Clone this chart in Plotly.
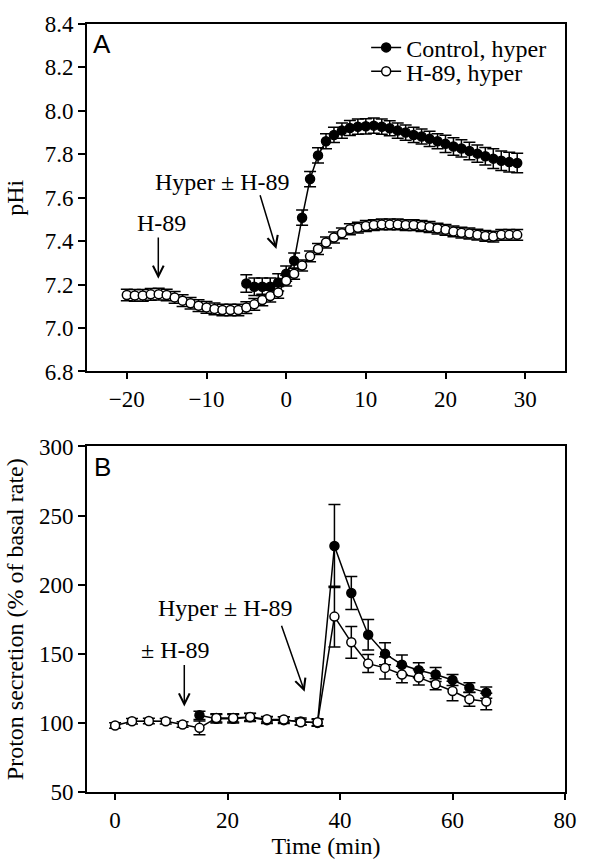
import plotly.graph_objects as go

# ---------------- Panel A data (pHi) ----------------
a_ctrl_t = list(range(-5, 30))
a_ctrl_ph = [7.205, 7.19, 7.19, 7.19, 7.21, 7.25, 7.31, 7.508, 7.686, 7.795,
             7.86, 7.889, 7.909, 7.921, 7.927, 7.929, 7.932, 7.927, 7.92, 7.909,
             7.90, 7.889, 7.882, 7.871, 7.86, 7.848, 7.836, 7.827, 7.815, 7.803,
             7.791, 7.78, 7.77, 7.764, 7.76]
a_ctrl_err = [0.04, 0.04, 0.04, 0.04, 0.04, 0.035, 0.035, 0.035, 0.035, 0.035,
              0.035, 0.035, 0.035, 0.035, 0.035, 0.035, 0.035, 0.035, 0.035, 0.035,
              0.035, 0.035, 0.035, 0.035, 0.035, 0.04, 0.04, 0.04, 0.04, 0.04,
              0.04, 0.045, 0.045, 0.045, 0.045]

a_h89_t = list(range(-20, 30))
a_h89_ph = [7.152, 7.15, 7.15, 7.155, 7.156, 7.152, 7.141, 7.126, 7.114, 7.103,
            7.095, 7.088, 7.083, 7.083, 7.083, 7.094, 7.109, 7.129, 7.147, 7.164,
            7.218, 7.25, 7.288, 7.33, 7.364, 7.394, 7.417, 7.436, 7.455, 7.462,
            7.47, 7.474, 7.477, 7.477, 7.477, 7.474, 7.474, 7.47, 7.465, 7.458,
            7.452, 7.445, 7.439, 7.435, 7.43, 7.424, 7.421, 7.429, 7.429, 7.429]
a_h89_err = [0.027] * 20 + [0.025] * 30

# ---------------- Panel B data (proton secretion) ----------------
b_ctrl_t = list(range(15, 67, 3))
b_ctrl_v = [105.5, 103, 103, 104, 102, 102, 101, 100, 228, 194,
            163.8, 150, 142.1, 138.1, 135, 131, 125.5, 121.9]
b_ctrl_err = [3, 3, 3, 3, 2.5, 2.5, 2.5, 2.5, 30, 12,
              11, 8, 7, 5.5, 5, 4, 3.5, 4]

b_h89_t = list(range(0, 67, 3))
b_h89_v = [98.1, 101.2, 101.4, 101.2, 98.8, 96.4, 103.6, 103.6, 104.3, 102.6,
           102.4, 100.5, 100.5, 176.9, 158.3, 142.9, 139.8, 135, 132.9, 127.9,
           123.1, 117.1, 115.5]
b_h89_err = [2, 2, 2, 2, 2, 5, 3, 3, 2.5, 2, 2, 2, 2.5, 22, 11.5, 6.5,
             8, 6, 5.5, 4, 7, 5, 6]

SERIF = "Liberation Serif"
SANS = "Liberation Sans"
FS = 23      # tick labels
FT = 24      # titles, legend, annotations

fig = go.Figure()


def err(arr):
    return dict(type="data", array=arr, visible=True, color="black",
                thickness=1.5, width=6)


fig.add_trace(go.Scatter(
    x=a_ctrl_t, y=a_ctrl_ph, error_y=err(a_ctrl_err), mode="lines+markers",
    name="Control, hyper", legend="legend",
    line=dict(color="black", width=1.5),
    marker=dict(symbol="circle", size=9, color="black",
                line=dict(color="black", width=1.5)),
    xaxis="x", yaxis="y"))
fig.add_trace(go.Scatter(
    x=a_h89_t, y=a_h89_ph, error_y=err(a_h89_err), mode="lines+markers",
    name="H-89, hyper", legend="legend2",
    line=dict(color="black", width=1.5),
    marker=dict(symbol="circle", size=9, color="white",
                line=dict(color="black", width=1.5)),
    xaxis="x", yaxis="y"))
fig.add_trace(go.Scatter(
    x=b_ctrl_t, y=b_ctrl_v, error_y=err(b_ctrl_err), mode="lines+markers",
    showlegend=False,
    line=dict(color="black", width=1.5),
    marker=dict(symbol="circle", size=9, color="black",
                line=dict(color="black", width=1.5)),
    xaxis="x2", yaxis="y2"))
fig.add_trace(go.Scatter(
    x=b_h89_t, y=b_h89_v, error_y=err(b_h89_err), mode="lines+markers",
    showlegend=False,
    line=dict(color="black", width=1.5),
    marker=dict(symbol="circle", size=9, color="white",
                line=dict(color="black", width=1.5)),
    xaxis="x2", yaxis="y2"))

axis_common = dict(showline=True, linecolor="black", linewidth=2, mirror=True,
                   ticks="outside", tickcolor="black", tickwidth=1.5,
                   showgrid=False, zeroline=False,
                   tickfont=dict(family=SERIF, size=FS, color="black"))

fig.update_layout(
    width=589, height=865,
    margin=dict(l=87, r=17, t=20, b=67),
    paper_bgcolor="white", plot_bgcolor="white",
    font=dict(family=SERIF, size=FS, color="black"),
    xaxis=dict(domain=[0, 1], range=[-25, 35], tickvals=[-20, -10, 0, 10, 20, 30],
               ticktext=["\u221220", "\u221210", "0", "10", "20", "30"],
               ticklen=6, anchor="y", **axis_common),
    yaxis=dict(domain=[0.5476, 1], range=[6.8, 8.4], dtick=0.2, tickformat=".1f",
               ticklen=7, anchor="x",
               title=dict(text="pHi", font=dict(family=SERIF, size=FT), standoff=14),
               **axis_common),
    xaxis2=dict(domain=[0, 1], range=[-5, 80], dtick=20, ticklen=6, anchor="y2",
                title=dict(text="Time (min)", font=dict(family=SERIF, size=FT), standoff=4),
                **axis_common),
    yaxis2=dict(domain=[0, 0.4499], range=[50, 300], dtick=50, ticklen=7, anchor="x2",
                title=dict(text="Proton secretion (% of basal rate)",
                           font=dict(family=SERIF, size=FT), standoff=8),
                **axis_common),
    legend=dict(x=0.584, y=0.969, xanchor="left", yanchor="middle",
                bgcolor="rgba(0,0,0,0)", font=dict(family=SERIF, size=FT),
                itemwidth=30),
    legend2=dict(x=0.584, y=0.938, xanchor="left", yanchor="middle",
                 bgcolor="rgba(0,0,0,0)", font=dict(family=SERIF, size=FT),
                 itemwidth=30),
    showlegend=True,
)

ann = []
# panel letters
ann.append(dict(text="A", xref="x domain", yref="y domain", x=0.008, y=0.99,
                xanchor="left", yanchor="top", showarrow=False,
                font=dict(family=SANS, size=26, color="black")))
ann.append(dict(text="B", xref="x2 domain", yref="y2 domain", x=0.01, y=0.99,
                xanchor="left", yanchor="top", showarrow=False,
                font=dict(family=SANS, size=26, color="black")))
# Panel A labels and arrows
ann.append(dict(text="H-89", xref="x", yref="y", x=-15.7, y=7.485, showarrow=False,
                font=dict(family=SERIF, size=FT)))
ann.append(dict(text="", xref="x", yref="y", x=-16.05, y=7.227,
                axref="x", ayref="y", ax=-16.05, ay=7.424, showarrow=True,
                arrowhead=5, arrowsize=1.4, arrowwidth=1.5, arrowcolor="black"))
ann.append(dict(text="Hyper \u00b1 H-89", xref="x", yref="y", x=-8.0, y=7.674,
                showarrow=False, font=dict(family=SERIF, size=FT)))
ann.append(dict(text="", xref="x", yref="y", x=-1.23, y=7.364,
                axref="x", ayref="y", ax=-3.33, ay=7.618, showarrow=True,
                arrowhead=5, arrowsize=1.4, arrowwidth=1.5, arrowcolor="black"))
# Panel B labels and arrows
ann.append(dict(text="\u00b1 H-89", xref="x2", yref="y2", x=10.7, y=152.4,
                showarrow=False, font=dict(family=SERIF, size=FT)))
ann.append(dict(text="", xref="x2", yref="y2", x=12.3, y=111.9,
                axref="x2", ayref="y2", ax=12.3, ay=142.9, showarrow=True,
                arrowhead=5, arrowsize=1.4, arrowwidth=1.5, arrowcolor="black"))
ann.append(dict(text="Hyper \u00b1 H-89", xref="x2", yref="y2", x=19.6, y=183.3,
                showarrow=False, font=dict(family=SERIF, size=FT)))
ann.append(dict(text="", xref="x2", yref="y2", x=33.7, y=122.6,
                axref="x2", ayref="y2", ax=29.5, ay=171.4, showarrow=True,
                arrowhead=5, arrowsize=1.4, arrowwidth=1.5, arrowcolor="black"))
fig.update_layout(annotations=ann)

fig.write_html("out.html",
               config={"displayModeBar": False},
               post_script="document.body.style.margin='0';"
                           "document.body.style.overflow='hidden';")
